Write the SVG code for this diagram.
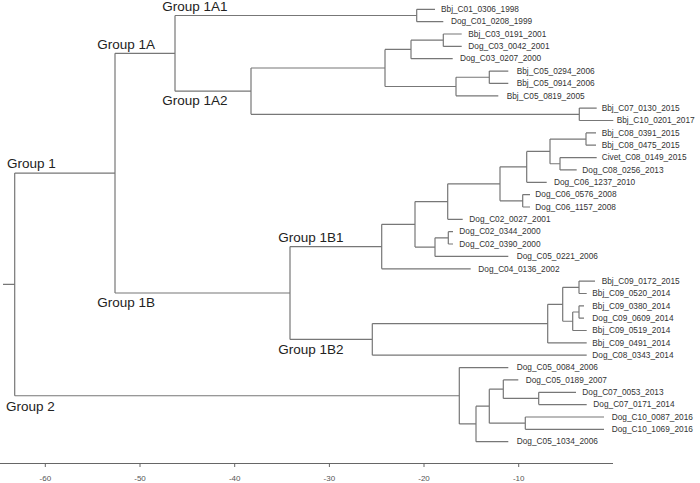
<svg xmlns="http://www.w3.org/2000/svg" width="700" height="483" viewBox="0 0 700 483">
<style>
.br{fill:none;stroke:#777;stroke-width:1.2}
.ax{fill:none;stroke:#666;stroke-width:1}
.tip{font-family:"Liberation Sans",Arial,sans-serif;font-size:8.3px;fill:#333}
.grp{font-family:"Liberation Sans",Arial,sans-serif;font-size:13.5px;fill:#222}
.tk{font-family:"Liberation Sans",Arial,sans-serif;font-size:8px;fill:#555;text-anchor:middle}
</style>
<rect width="700" height="483" fill="#fff"/>
<g id="connectors">
<path class="br" d="M3,284.4H14.7 M14.7,173.1V395.75 M14.7,173.1H115 M14.7,395.75H459.3
M115,53.3V293 M115,53.3H175 M115,293H290
M175,15.5V91.15 M175,15.5H416.7 M175,91.15H251
M416.7,9.3V21.65 M416.7,9.3H435 M416.7,21.65H443.3
M251,68V114.3 M251,68H385 M251,114.3H579.3
M385,49.45V86.5 M385,49.45H411 M385,86.5H456
M411,40.2V58.7 M411,40.2H443.3 M411,58.7H452.7
M443.3,34V46.4 M443.3,34H461.7 M443.3,46.4H461.7
M456,77.25V95.8 M456,77.25H489.3 M456,95.8H498.3
M489.3,71.1V83.4 M489.3,71.1H508.3 M489.3,83.4H508.3
M579.3,108.1V120.5 M579.3,108.1H596.7 M579.3,120.5H613.3
M290,246.55V339.4 M290,246.55H381.7 M290,339.4H372.3
M381.7,224.3V268.8 M381.7,224.3H415 M381.7,268.8H470.7
M415,201.55V247.1 M415,201.55H447.7 M415,247.1H435
M447.7,183.8V219.3 M447.7,183.8H500 M447.7,219.3H462.7
M500,166.85V200.8 M500,166.85H526.7 M500,200.8H522.7
M526.7,151.4V182.3 M526.7,151.4H550 M526.7,182.3H546.7
M550,139.05V163.75 M550,139.05H586 M550,163.75H560
M586,132.9V145.2 M586,132.9H596 M586,145.2H596
M560,157.6V169.9 M560,157.6H596.7 M560,169.9H576.7
M522.7,194.6V207 M522.7,194.6H530 M522.7,207H530
M435,237.85V256.4 M435,237.85H448.3 M435,256.4H508.3
M448.3,231.7V244 M448.3,231.7H453 M448.3,244H453
M372.3,323.6V355.2 M372.3,323.6H547.7 M372.3,355.2H586.7
M547.7,304.3V342.9 M547.7,304.3H562.7 M547.7,342.9H586.7
M562.7,287.3V321.25 M562.7,287.3H579 M562.7,321.25H572.7
M579,281.1V293.5 M579,281.1H595 M579,293.5H586.7
M572.7,312V330.5 M572.7,312H579 M572.7,330.5H586.7
M579,305.8V318.2 M579,305.8H584 M579,318.2H584
M459.3,367.6V423.9 M459.3,367.6H508.3 M459.3,423.9H476
M476,406.2V441.7 M476,406.2H489.3 M476,441.7H508.3
M489.3,389.2V423.15 M489.3,389.2H503.3 M489.3,423.15H525.3
M503.3,379.9V398.45 M503.3,379.9H518.3 M503.3,398.45H538.7
M538.7,392.3V404.6 M538.7,392.3H576 M538.7,404.6H586.7
M525.3,417V429.3 M525.3,417H604 M525.3,429.3H604"/>
</g>
<g id="axis">
<path class="ax" d="M0,463.5H613 M45.3,463.5V467 M140,463.5V467 M234.7,463.5V467 M329.4,463.5V467 M424,463.5V467 M518.7,463.5V467"/>
<text class="tk" x="45.3" y="481">-60</text>
<text class="tk" x="140" y="481">-50</text>
<text class="tk" x="234.7" y="481">-40</text>
<text class="tk" x="329.4" y="481">-30</text>
<text class="tk" x="424" y="481">-20</text>
<text class="tk" x="518.7" y="481">-10</text>
</g>
<g id="group-labels">
<g id="g1"><text class="grp" x="7" y="168">Group 1</text></g>
<g id="g1a"><text class="grp" x="97.3" y="49.3">Group 1A</text></g>
<g id="g1a1"><text class="grp" x="162.3" y="10.5">Group 1A1</text></g>
<g id="g1a2"><text class="grp" x="162.3" y="105">Group 1A2</text></g>
<g id="g1b"><text class="grp" x="97.3" y="306.7">Group 1B</text></g>
<g id="g1b1"><text class="grp" x="278.3" y="241.7">Group 1B1</text></g>
<g id="g1b2"><text class="grp" x="278.3" y="354.3">Group 1B2</text></g>
<g id="g2"><text class="grp" x="6" y="410.7">Group 2</text></g>
</g>
<g id="tips">
<g id="t0"><text class="tip" x="441" y="12">Bbj_C01_0306_1998</text></g>
<g id="t1"><text class="tip" x="451" y="24.3">Dog_C01_0208_1999</text></g>
<g id="t2"><text class="tip" x="468.3" y="36.7">Bbj_C03_0191_2001</text></g>
<g id="t3"><text class="tip" x="468.3" y="49.1">Dog_C03_0042_2001</text></g>
<g id="t4"><text class="tip" x="460" y="61.4">Dog_C03_0207_2000</text></g>
<g id="t5"><text class="tip" x="516.7" y="73.8">Bbj_C05_0294_2006</text></g>
<g id="t6"><text class="tip" x="516.7" y="86.1">Bbj_C05_0914_2006</text></g>
<g id="t7"><text class="tip" x="506.7" y="98.5">Bbj_C05_0819_2005</text></g>
<g id="t8"><text class="tip" x="601.7" y="110.8">Bbj_C07_0130_2015</text></g>
<g id="t9"><text class="tip" x="616.7" y="123.2">Bbj_C10_0201_2017</text></g>
<g id="t10"><text class="tip" x="601.7" y="135.6">Bbj_C08_0391_2015</text></g>
<g id="t11"><text class="tip" x="601.7" y="147.9">Bbj_C08_0475_2015</text></g>
<g id="t12"><text class="tip" x="601.7" y="160.3">Civet_C08_0149_2015</text></g>
<g id="t13"><text class="tip" x="582.3" y="172.6">Dog_C08_0256_2013</text></g>
<g id="t14"><text class="tip" x="554" y="185">Dog_C06_1237_2010</text></g>
<g id="t15"><text class="tip" x="535.3" y="197.3">Dog_C06_0576_2008</text></g>
<g id="t16"><text class="tip" x="535.3" y="209.7">Dog_C06_1157_2008</text></g>
<g id="t17"><text class="tip" x="469.3" y="222">Dog_C02_0027_2001</text></g>
<g id="t18"><text class="tip" x="459.3" y="234.4">Dog_C02_0344_2000</text></g>
<g id="t19"><text class="tip" x="459.3" y="246.7">Dog_C02_0390_2000</text></g>
<g id="t20"><text class="tip" x="516.7" y="259.1">Dog_C05_0221_2006</text></g>
<g id="t21"><text class="tip" x="478.3" y="271.5">Dog_C04_0136_2002</text></g>
<g id="t22"><text class="tip" x="601.7" y="283.8">Bbj_C09_0172_2015</text></g>
<g id="t23"><text class="tip" x="592.3" y="296.2">Bbj_C09_0520_2014</text></g>
<g id="t24"><text class="tip" x="592.3" y="308.5">Bbj_C09_0380_2014</text></g>
<g id="t25"><text class="tip" x="592.3" y="320.9">Dog_C09_0609_2014</text></g>
<g id="t26"><text class="tip" x="592.3" y="333.2">Bbj_C09_0519_2014</text></g>
<g id="t27"><text class="tip" x="592.3" y="345.6">Bbj_C09_0491_2014</text></g>
<g id="t28"><text class="tip" x="592.3" y="357.9">Dog_C08_0343_2014</text></g>
<g id="t29"><text class="tip" x="516.7" y="370.3">Dog_C05_0084_2006</text></g>
<g id="t30"><text class="tip" x="525.7" y="382.6">Dog_C05_0189_2007</text></g>
<g id="t31"><text class="tip" x="582.3" y="395">Dog_C07_0053_2013</text></g>
<g id="t32"><text class="tip" x="593.3" y="407.3">Dog_C07_0171_2014</text></g>
<g id="t33"><text class="tip" x="611.7" y="419.7">Dog_C10_0087_2016</text></g>
<g id="t34"><text class="tip" x="611.7" y="432">Dog_C10_1069_2016</text></g>
<g id="t35"><text class="tip" x="516.7" y="444.4">Dog_C05_1034_2006</text></g>
</g>
</svg>
